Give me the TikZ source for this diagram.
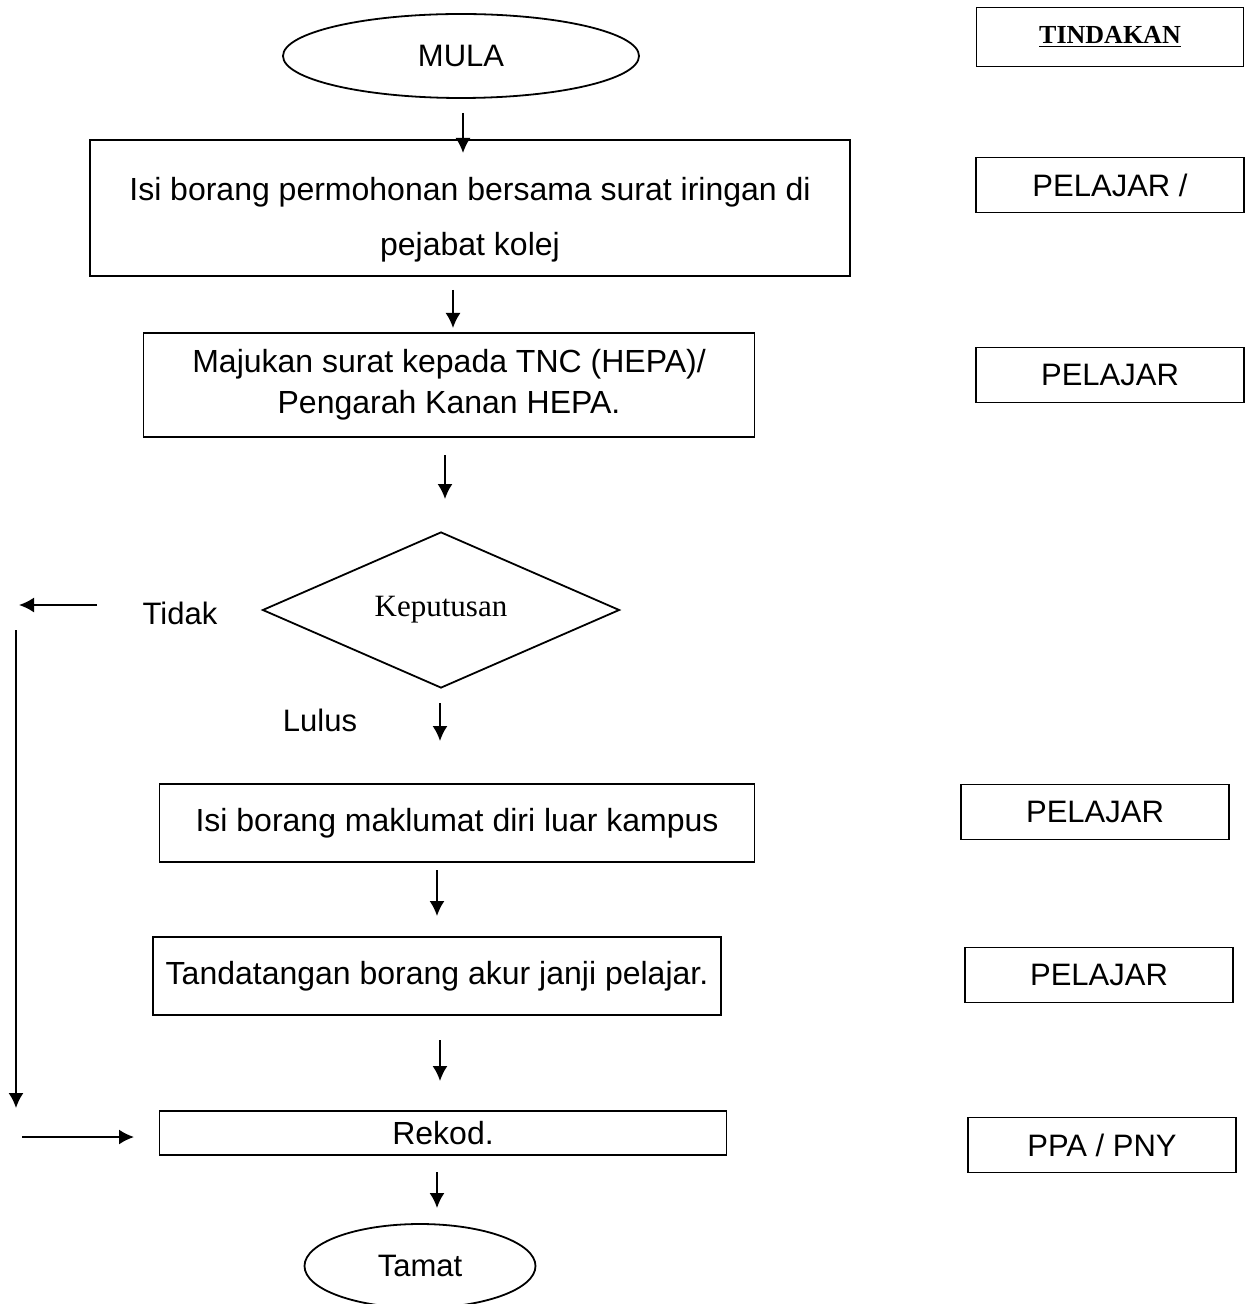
\documentclass[tikz,border=0pt]{standalone}
\usepackage{fontspec}
\setmainfont{Liberation Sans}
\newfontfamily\serifface{Liberation Serif}
\usetikzlibrary{arrows.meta}
\usetikzlibrary{shapes.geometric}

\begin{document}
\begin{tikzpicture}[x=0.5pt, y=-0.5pt,
    box/.style = {draw, line width=0.9pt, inner sep=0pt, align=center,
                  font=\fontsize{16}{20.5}\selectfont},
    role/.style = {box, minimum width=134pt, minimum height=27.5pt,
                   font=\fontsize{15.5}{18}\selectfont},
    flow/.style = {-{Latex[length=7.5pt, width=7.5pt]}, line width=0.9pt}]
    \useasboundingbox (0,0) rectangle (1247,1304);

    % start / end
    \node [box, ellipse, minimum width=178pt, minimum height=42pt,
           font=\fontsize{15.5}{18}\selectfont] (mula) at (461,56) {MULA};
    \node [box, ellipse, minimum width=115.5pt, minimum height=42pt,
           font=\fontsize{15.5}{18}\selectfont] (tamat) at (420,1266) {Tamat};

    % steps
    \node [box, minimum width=380pt, minimum height=68pt] (borang) at (470,208) {};
    \node [align=center, font=\fontsize{16}{27.5}\selectfont] (borangtext)
        at ([yshift=-6pt]borang.center) {Isi borang permohonan bersama surat iringan di\\ pejabat kolej};
    \node [box, minimum width=305.5pt, minimum height=52pt] (majukan) at (449,385)
        {Majukan surat kepada TNC (HEPA)/\\ Pengarah Kanan HEPA.};
    \node [box, diamond, aspect=2.29, minimum width=178.5pt, minimum height=78pt,
           font=\serifface\fontsize{15.5}{18}\selectfont] (keputusan) at (441,610) {Keputusan};
    \node [box, minimum width=297.5pt, minimum height=39pt] (maklumat) at (457,823)
        {Isi borang maklumat diri luar kampus};
    \node [box, minimum width=284pt, minimum height=39pt] (akur) at (437,976)
        {Tandatangan borang akur janji pelajar.};
    \node [box, minimum width=283.5pt, minimum height=22pt] (rekod) at (443,1133) {Rekod.};

    % tindakan column
    \node [box, minimum width=133.5pt, minimum height=29.5pt,
           font=\serifface\bfseries\fontsize{13}{15}\selectfont] (tindakan) at (1110,37)
        {\underline{TINDAKAN}};
    \node [role] (pelajarA) at (1110,185) {PELAJAR /};
    \node [role] (pelajarB) at (1110,375) {PELAJAR};
    \node [role] (pelajarC) at (1095,812) {PELAJAR};
    \node [role] (pelajarD) at (1099,975) {PELAJAR};
    \node [role] (ppa) at (1102,1145) {PPA / PNY};

    % labels on the decision
    \node [font=\fontsize{15.5}{18}\selectfont] (tidak) at (180,613) {Tidak};
    \node [font=\fontsize{15.5}{18}\selectfont] (lulus) at (320,720) {Lulus};

    % short arrows between the steps
    \coordinate (a1) at (463,113);  \coordinate (b1) at (463,153);
    \coordinate (a2) at (453,290);  \coordinate (b2) at (453,328);
    \coordinate (a3) at (445,455);  \coordinate (b3) at (445,499);
    \coordinate (a4) at (440,703);  \coordinate (b4) at (440,741);
    \coordinate (a5) at (437,870);  \coordinate (b5) at (437,916);
    \coordinate (a6) at (440,1040); \coordinate (b6) at (440,1081);
    \coordinate (a7) at (437,1172); \coordinate (b7) at (437,1208);
    \draw [flow] (a1) -- (b1);
    \draw [flow] (a2) -- (b2);
    \draw [flow] (a3) -- (b3);
    \draw [flow] (a4) -- (b4);
    \draw [flow] (a5) -- (b5);
    \draw [flow] (a6) -- (b6);
    \draw [flow] (a7) -- (b7);

    % Tidak goes round to Rekod.
    \coordinate (t1) at (97,605);   \coordinate (t2) at (19,605);
    \coordinate (t3) at (16,630);   \coordinate (t4) at (16,1108);
    \coordinate (t5) at (22,1137);  \coordinate (t6) at (134,1137);
    \draw [flow] (t1) -- (t2);
    \draw [flow] (t3) -- (t4);
    \draw [flow] (t5) -- (t6);
\end{tikzpicture}
\end{document}
